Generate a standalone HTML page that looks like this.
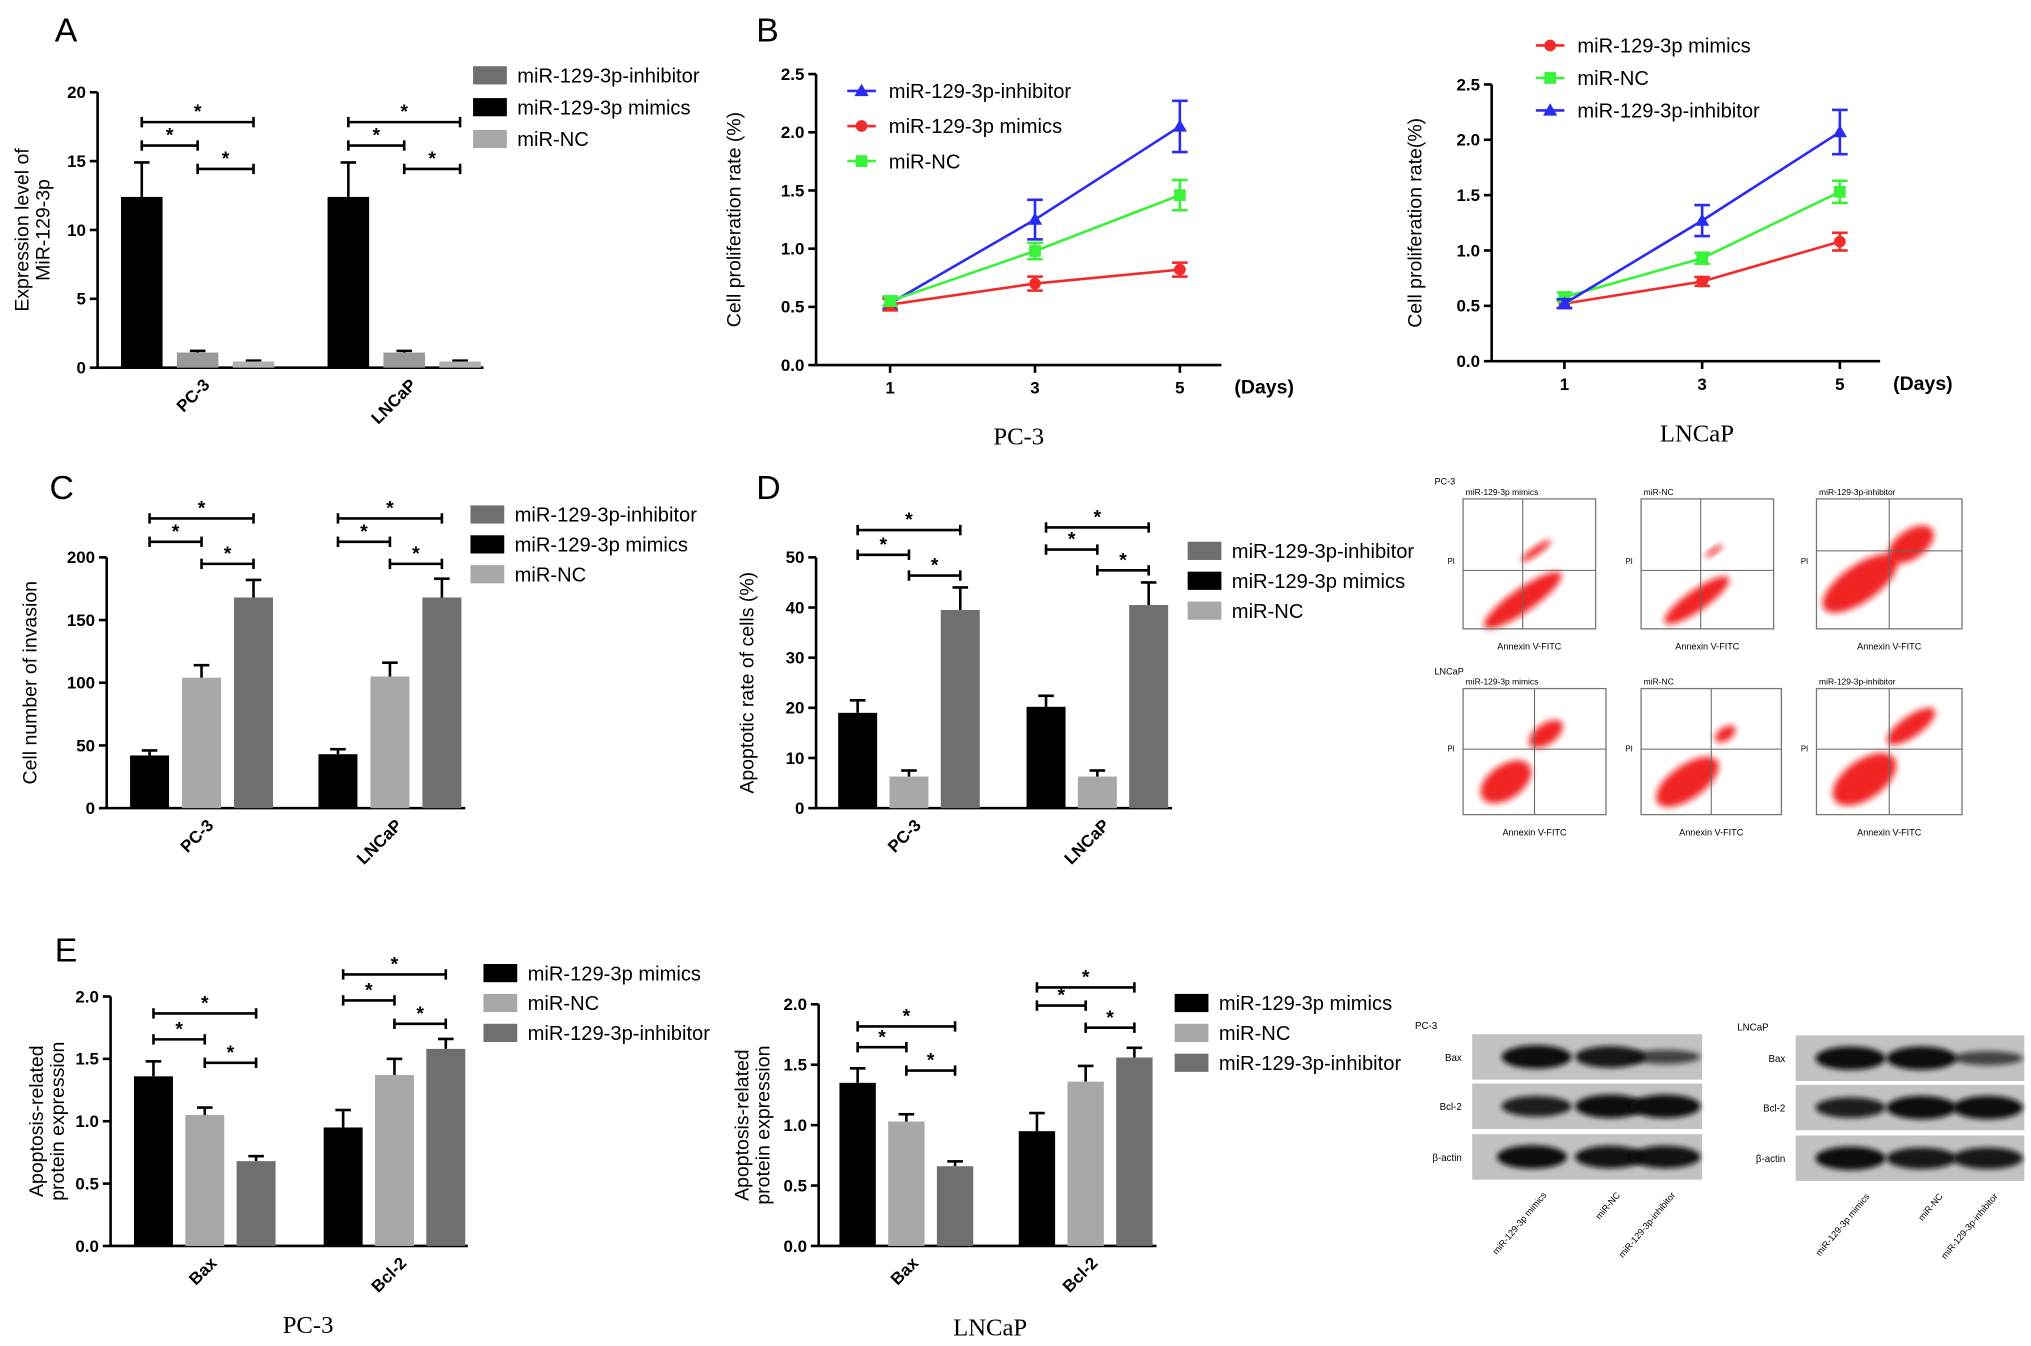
<!DOCTYPE html>
<html><head><meta charset="utf-8"><title>miR-129-3p figure</title>
<style>
html,body{margin:0;padding:0;background:#fff;}
svg{display:block;font-family:"Liberation Sans",Arial,sans-serif;}
</style></head>
<body>
<svg id="fig" width="2031" height="1346" viewBox="0 0 1563 1036" xmlns="http://www.w3.org/2000/svg">
<defs>
<filter id="blur" x="-50%" y="-50%" width="200%" height="200%"><feGaussianBlur stdDeviation="2.5"/></filter>
<filter id="blur2" x="-50%" y="-50%" width="200%" height="200%"><feGaussianBlur stdDeviation="2"/></filter>
</defs>
<g font-size="26" fill="#000">
<text x="42" y="32">A</text>
<text x="582" y="32">B</text>
<text x="38" y="384">C</text>
<text x="582" y="384">D</text>
<text x="42" y="740">E</text>
</g>
<g font-family="Liberation Serif,serif" font-size="19">
<text x="784" y="342" text-anchor="middle">PC-3</text>
<text x="1306" y="340" text-anchor="middle">LNCaP</text>
<text x="237" y="1026" text-anchor="middle">PC-3</text>
<text x="762" y="1028" text-anchor="middle">LNCaP</text>
</g>
<g id="layer"></g>
</svg>
<script>
// ---------- data ----------
const barGroupsCells = ["PC-3", "LNCaP"];
const barGroupsProt = ["Bax", "Bcl-2"];
const aTicks = [0, 5, 10, 15, 20];
const aMimics = [12.4, 12.4];
const aMimicsErr = [2.5, 2.5];
const aNC = [1.1, 1.1];
const aNCErr = [0.12, 0.12];
const aInhib = [0.45, 0.45];
const aInhibErr = [0.06, 0.06];

const dayCats = [1, 3, 5];
const bTicks = [0.0, 0.5, 1.0, 1.5, 2.0, 2.5];
const bPcInhib = [0.53, 1.25, 2.05];
const bPcInhibErr = [0.05, 0.17, 0.22];
const bPcMimics = [0.52, 0.70, 0.82];
const bPcMimicsErr = [0.05, 0.06, 0.06];
const bPcNC = [0.55, 0.98, 1.46];
const bPcNCErr = [0.04, 0.07, 0.13];
const bLnMimics = [0.52, 0.72, 1.08];
const bLnMimicsErr = [0.04, 0.04, 0.08];
const bLnNC = [0.58, 0.93, 1.53];
const bLnNCErr = [0.04, 0.05, 0.1];
const bLnInhib = [0.52, 1.27, 2.07];
const bLnInhibErr = [0.04, 0.14, 0.2];

const cTicks = [0, 50, 100, 150, 200];
const cMimics = [42, 43];
const cMimicsErr = [4, 4];
const cNC = [104, 105];
const cNCErr = [10, 11];
const cInhib = [168, 168];
const cInhibErr = [14, 15];

const dTicks = [0, 10, 20, 30, 40, 50];
const dMimics = [19, 20.2];
const dMimicsErr = [2.5, 2.2];
const dNC = [6.3, 6.3];
const dNCErr = [1.2, 1.2];
const dInhib = [39.5, 40.5];
const dInhibErr = [4.5, 4.5];

const eTicks = [0.0, 0.5, 1.0, 1.5, 2.0];
const ePcMimics = [1.36, 0.95];
const ePcMimicsErr = [0.12, 0.14];
const ePcNC = [1.05, 1.37];
const ePcNCErr = [0.06, 0.13];
const ePcInhib = [0.68, 1.58];
const ePcInhibErr = [0.04, 0.08];
const eLnMimics = [1.35, 0.95];
const eLnMimicsErr = [0.12, 0.15];
const eLnNC = [1.03, 1.36];
const eLnNCErr = [0.06, 0.13];
const eLnInhib = [0.66, 1.56];
const eLnInhibErr = [0.04, 0.08];

// ---------- helpers ----------
const NS = "http://www.w3.org/2000/svg";
const layer = document.getElementById("layer");
function el(tag, attrs, parent) {
  const e = document.createElementNS(NS, tag);
  for (const k in attrs) e.setAttribute(k, attrs[k]);
  (parent || layer).appendChild(e);
  return e;
}
function txt(str, attrs, parent) { const t = el("text", attrs, parent); t.textContent = str; return t; }
function fmt(v, d) { return d ? v.toFixed(d) : String(v); }

function axisY(p, g) {
  const sy = v => p.y0 - (v / p.max) * (p.y0 - p.yT);
  const ax = el("line", {x1: p.ax, y1: p.y0, x2: p.ax, y2: sy(p.ticks[p.ticks.length - 1]), stroke: "#000", "stroke-width": 2}, g);
  
  
  p.ticks.forEach(t => {
    el("line", {x1: p.ax - 6, y1: sy(t), x2: p.ax, y2: sy(t), stroke: "#000", "stroke-width": 2}, g);
    const lb = txt(fmt(t, p.dec), {x: p.ax - 9, y: sy(t) + 4.5, "text-anchor": "end", "font-size": 13, "font-weight": "bold"}, g);
    
    
  });
  const xa = el("line", {x1: p.ax, y1: p.y0, x2: p.xEnd, y2: p.y0, stroke: "#000", "stroke-width": 2}, g);
  
  
  p.ylabel.forEach((s, i) => {
    const yl = txt(s, {x: 0, y: 0, "text-anchor": "middle", "font-size": 15,
      transform: `translate(${p.ylx + i * 16},${(p.y0 + p.yT) / 2}) rotate(-90)`}, g);
    
    
  });
  return sy;
}

function barChart(p) {
  const g = el("g", {});
  
  
  const sy = axisY(p, g);
  const centers = [];
  p.series.forEach((vals, si) => {
    vals.forEach((v, gi) => {
      const x = p.groupX[gi] + si * (p.bw + p.gap);
      centers[gi] = centers[gi] || [];
      centers[gi][si] = x + p.bw / 2;
      const top = sy(v + p.errs[si][gi]);
      el("line", {x1: x + p.bw / 2, y1: sy(v), x2: x + p.bw / 2, y2: top, stroke: "#000", "stroke-width": 2}, g);
      el("line", {x1: x + p.bw / 2 - 6, y1: top, x2: x + p.bw / 2 + 6, y2: top, stroke: "#000", "stroke-width": 2}, g);
      const r = el("rect", {x: x, y: sy(v), width: p.bw, height: p.y0 - sy(v), fill: p.colors[si]}, g);
      
      
    });
  });
  p.groups.forEach((lab, gi) => {
    const cx = (centers[gi][0] + centers[gi][centers[gi].length - 1]) / 2;
    const t = txt(lab, {x: 0, y: 0, "text-anchor": "end", "font-size": 13, "font-weight": "bold",
      transform: `translate(${cx + 10},${p.y0 + 14}) rotate(-45)`}, g);
    
    
    p.brackets[gi].forEach(b => {
      const x1 = centers[gi][b[0]], x2 = centers[gi][b[1]];
      el("line", {x1: x1, y1: b[2], x2: x2, y2: b[2], stroke: "#000", "stroke-width": 2}, g);
      el("line", {x1: x1, y1: b[2] - 4, x2: x1, y2: b[2] + 4, stroke: "#000", "stroke-width": 2}, g);
      el("line", {x1: x2, y1: b[2] - 4, x2: x2, y2: b[2] + 4, stroke: "#000", "stroke-width": 2}, g);
      const s = txt("*", {x: (x1 + x2) / 2, y: b[2] - 3, "text-anchor": "middle", "font-size": 15, "font-weight": "bold"}, g);
      
      
    });
  });
  legend(p.legend, g);
}

function legend(L, g) {
  L.items.forEach((it, i) => {
    const y = L.y + i * L.dy;
    if (it.marker) {
      el("line", {x1: L.x, y1: y, x2: L.x + 22, y2: y, stroke: it.color, "stroke-width": 2}, g);
      marker(it.marker, L.x + 11, y, it.color, g);
    } else {
      el("rect", {x: L.x, y: y - 7, width: 26, height: 14, fill: it.color}, g);
    }
    const t = txt(it.label, {x: L.x + (it.marker ? 32 : 34), y: y + 5.5, "font-size": 15.5}, g);
    
    
  });
}

function marker(type, x, y, c, g) {
  if (type === "circle") el("circle", {cx: x, cy: y, r: 4.5, fill: c}, g);
  else if (type === "square") el("rect", {x: x - 4.5, y: y - 4.5, width: 9, height: 9, fill: c}, g);
  else el("polygon", {points: `${x},${y - 5.5} ${x + 5.5},${y + 4} ${x - 5.5},${y + 4}`, fill: c}, g);
}

function lineChart(p) {
  const g = el("g", {});
  
  
  const sy = axisY(p, g);
  const sx = d => p.x1 + (d - p.cats[0]) / (p.cats[p.cats.length - 1] - p.cats[0]) * (p.x5 - p.x1);
  p.cats.forEach(d => {
    el("line", {x1: sx(d), y1: p.y0, x2: sx(d), y2: p.y0 + 6, stroke: "#000", "stroke-width": 2}, g);
    const t = txt(String(d), {x: sx(d), y: p.y0 + 22, "text-anchor": "middle", "font-size": 13, "font-weight": "bold"}, g);
    
    
  });
  const dl = txt("(Days)", {x: p.xEnd + 10, y: p.y0 + 22, "font-size": 15, "font-weight": "bold"}, g);
  
  
  p.series.forEach((s, si) => {
    const pts = s.v.map((v, i) => `${sx(p.cats[i])},${sy(v)}`).join(" ");
    const pl = el("polyline", {points: pts, fill: "none", stroke: s.color, "stroke-width": 2}, g);
    
    
    s.v.forEach((v, i) => {
      const x = sx(p.cats[i]);
      el("line", {x1: x, y1: sy(v - s.e[i]), x2: x, y2: sy(v + s.e[i]), stroke: s.color, "stroke-width": 2}, g);
      el("line", {x1: x - 6, y1: sy(v + s.e[i]), x2: x + 6, y2: sy(v + s.e[i]), stroke: s.color, "stroke-width": 2}, g);
      el("line", {x1: x - 6, y1: sy(v - s.e[i]), x2: x + 6, y2: sy(v - s.e[i]), stroke: s.color, "stroke-width": 2}, g);
      marker(s.marker, x, sy(v), s.color, g);
    });
  });
  legend(p.legend, g);
}

const BLUE = "#2a2af2", RED = "#f22a2a", GREEN = "#3af23a";
const BLK = "#000", LG = "#a8a8a8", DG = "#6f6f6f";

barChart({name: "panel-a-expression", ax: 75, y0: 283, yT: 71, max: 20, ticks: aTicks, dec: 0, xEnd: 372,
  ylabel: ["Expression level of", "MiR-129-3p"], ylx: 22,
  groups: barGroupsCells, groupX: [93, 252], bw: 32, gap: 11,
  series: [aMimics, aNC, aInhib], errs: [aMimicsErr, aNCErr, aInhibErr],
  snames: ["mimics", "nc", "inhibitor"], colors: [BLK, "#999", "#b0b0b0"],
  brackets: [[[0, 2, 94], [0, 1, 112], [1, 2, 130]], [[0, 2, 94], [0, 1, 112], [1, 2, 130]]],
  legend: {x: 364, y: 58, dy: 24.5, items: [{label: "miR-129-3p-inhibitor", color: DG}, {label: "miR-129-3p mimics", color: BLK}, {label: "miR-NC", color: LG}]}});

lineChart({name: "panel-b-pc3-proliferation", ax: 628, y0: 281, yT: 57, max: 2.5, ticks: bTicks, dec: 1, xEnd: 940,
  ylabel: ["Cell proliferation rate (%)"], ylx: 570, cats: dayCats, x1: 685, x5: 908,
  series: [{id: "inhibitor", v: bPcInhib, e: bPcInhibErr, color: BLUE, marker: "tri"},
           {id: "mimics", v: bPcMimics, e: bPcMimicsErr, color: RED, marker: "circle"},
           {id: "nc", v: bPcNC, e: bPcNCErr, color: GREEN, marker: "square"}],
  legend: {x: 652, y: 70, dy: 27, items: [{label: "miR-129-3p-inhibitor", color: BLUE, marker: "tri"}, {label: "miR-129-3p mimics", color: RED, marker: "circle"}, {label: "miR-NC", color: GREEN, marker: "square"}]}});

lineChart({name: "panel-b-lncap-proliferation", ax: 1148, y0: 278, yT: 65, max: 2.5, ticks: bTicks, dec: 1, xEnd: 1447,
  ylabel: ["Cell proliferation rate(%)"], ylx: 1094, cats: dayCats, x1: 1204, x5: 1416,
  series: [{id: "mimics", v: bLnMimics, e: bLnMimicsErr, color: RED, marker: "circle"},
           {id: "nc", v: bLnNC, e: bLnNCErr, color: GREEN, marker: "square"},
           {id: "inhibitor", v: bLnInhib, e: bLnInhibErr, color: BLUE, marker: "tri"}],
  legend: {x: 1182, y: 35, dy: 25, items: [{label: "miR-129-3p mimics", color: RED, marker: "circle"}, {label: "miR-NC", color: GREEN, marker: "square"}, {label: "miR-129-3p-inhibitor", color: BLUE, marker: "tri"}]}});

barChart({name: "panel-c-invasion", ax: 82, y0: 622, yT: 429, max: 200, ticks: cTicks, dec: 0, xEnd: 358,
  ylabel: ["Cell number of invasion"], ylx: 28,
  groups: barGroupsCells, groupX: [100, 245], bw: 30, gap: 10,
  series: [cMimics, cNC, cInhib], errs: [cMimicsErr, cNCErr, cInhibErr],
  snames: ["mimics", "nc", "inhibitor"], colors: [BLK, LG, DG],
  brackets: [[[0, 2, 399], [0, 1, 417], [1, 2, 434]], [[0, 2, 399], [0, 1, 417], [1, 2, 434]]],
  legend: {x: 362, y: 396, dy: 23, items: [{label: "miR-129-3p-inhibitor", color: DG}, {label: "miR-129-3p mimics", color: BLK}, {label: "miR-NC", color: LG}]}});

barChart({name: "panel-d-apoptosis", ax: 628, y0: 622, yT: 429, max: 50, ticks: dTicks, dec: 0, xEnd: 902,
  ylabel: ["Apoptotic rate of cells (%)"], ylx: 580,
  groups: barGroupsCells, groupX: [645, 790], bw: 30, gap: 9.5,
  series: [dMimics, dNC, dInhib], errs: [dMimicsErr, dNCErr, dInhibErr],
  snames: ["mimics", "nc", "inhibitor"], colors: [BLK, LG, DG],
  brackets: [[[0, 2, 408], [0, 1, 427], [1, 2, 443]], [[0, 2, 406], [0, 1, 423], [1, 2, 439]]],
  legend: {x: 914, y: 424, dy: 23, items: [{label: "miR-129-3p-inhibitor", color: DG}, {label: "miR-129-3p mimics", color: BLK}, {label: "miR-NC", color: LG}]}});

barChart({name: "panel-e-pc3-protein", ax: 85, y0: 959, yT: 767, max: 2.0, ticks: eTicks, dec: 1, xEnd: 360,
  ylabel: ["Apoptosis-related", "protein expression"], ylx: 33,
  groups: barGroupsProt, groupX: [103, 249], bw: 30, gap: 9.5,
  series: [ePcMimics, ePcNC, ePcInhib], errs: [ePcMimicsErr, ePcNCErr, ePcInhibErr],
  snames: ["mimics", "nc", "inhibitor"], colors: [BLK, LG, DG],
  brackets: [[[0, 2, 780], [0, 1, 800], [1, 2, 818]], [[0, 2, 750], [0, 1, 770], [1, 2, 788]]],
  legend: {x: 372, y: 749, dy: 23, items: [{label: "miR-129-3p mimics", color: BLK}, {label: "miR-NC", color: LG}, {label: "miR-129-3p-inhibitor", color: DG}]}});

barChart({name: "panel-e-lncap-protein", ax: 630, y0: 959, yT: 773, max: 2.0, ticks: eTicks, dec: 1, xEnd: 890,
  ylabel: ["Apoptosis-related", "protein expression"], ylx: 576,
  groups: barGroupsProt, groupX: [646, 784], bw: 28, gap: 9.5,
  series: [eLnMimics, eLnNC, eLnInhib], errs: [eLnMimicsErr, eLnNCErr, eLnInhibErr],
  snames: ["mimics", "nc", "inhibitor"], colors: [BLK, LG, DG],
  brackets: [[[0, 2, 790], [0, 1, 806], [1, 2, 824]], [[0, 2, 760], [0, 1, 774], [1, 2, 791]]],
  legend: {x: 904, y: 772, dy: 23, items: [{label: "miR-129-3p mimics", color: BLK}, {label: "miR-NC", color: LG}, {label: "miR-129-3p-inhibitor", color: DG}]}});

// ---------- flow cytometry panels ----------
const flowTitles = ["miR-129-3p mimics", "miR-NC", "miR-129-3p-inhibitor"];
const flowRows = [
  {label: "PC-3", ly: 373, top: 384, h: 100, boxes: [[1126, 102], [1263, 102], [1398, 112]], qx: [0.45, 0.45, 0.5], qy: [0.55, 0.55, 0.4],
   blobs: [[[0.45, 0.78, 36, 9], [0.55, 0.4, 14, 3]], [[0.42, 0.78, 30, 8], [0.55, 0.4, 8, 2]], [[0.3, 0.65, 34, 14], [0.65, 0.35, 20, 11]]]},
  {label: "LNCaP", ly: 519, top: 530, h: 97, boxes: [[1126, 110], [1263, 108], [1398, 112]], qx: [0.5, 0.5, 0.5], qy: [0.48, 0.48, 0.48],
   blobs: [[[0.3, 0.74, 22, 13], [0.58, 0.36, 15, 8]], [[0.33, 0.74, 28, 13], [0.6, 0.36, 9, 5]], [[0.33, 0.72, 28, 15], [0.65, 0.3, 22, 8]]]}
];
flowRows.forEach((row, ri) => {
  const g = el("g", {});
  
  
  txt(row.label, {x: 1104, y: row.ly, "font-size": 7}, g);
  row.boxes.forEach((b, bi) => {
    const x = b[0], w = b[1], y = row.top, h = row.h;
    txt(flowTitles[bi], {x: x + 2, y: y - 3, "font-size": 6.5}, g);
    row.blobs[bi].forEach(bl => {
      el("ellipse", {cx: x + bl[0] * w, cy: y + bl[1] * h, rx: bl[2], ry: bl[3], fill: "#f01010", opacity: 0.9,
        transform: `rotate(-35 ${x + bl[0] * w} ${y + bl[1] * h})`, filter: "url(#blur)"}, g);
    });
    el("rect", {x: x, y: y, width: w, height: h, fill: "none", stroke: "#777", "stroke-width": 1}, g);
    el("line", {x1: x + row.qx[bi] * w, y1: y, x2: x + row.qx[bi] * w, y2: y + h, stroke: "#666", "stroke-width": 0.8}, g);
    el("line", {x1: x, y1: y + row.qy[bi] * h, x2: x + w, y2: y + row.qy[bi] * h, stroke: "#666", "stroke-width": 0.8}, g);
    txt("Annexin V-FITC", {x: x + w / 2, y: y + h + 16, "text-anchor": "middle", "font-size": 7}, g);
    txt("PI", {x: x - 12, y: y + h / 2, "font-size": 6}, g);
  });
});

// ---------- western blots ----------
const blotRows = ["Bax", "Bcl-2", "β-actin"];
const blotLanes = ["miR-129-3p mimics", "miR-NC", "miR-129-3p-inhibitor"];
const blots = [
  {label: "PC-3", lx: 1089, ly: 792, x: 1133, w: 177, tops: [796, 834, 873], h: 35,
   bands: [[[0.28, 1], [0.6, 0.9], [0.84, 0.5]], [[0.28, 0.85], [0.6, 1], [0.84, 1]], [[0.26, 1], [0.6, 0.95], [0.84, 0.95]]]},
  {label: "LNCaP", lx: 1337, ly: 793, x: 1382, w: 176, tops: [797, 835, 874], h: 35,
   bands: [[[0.24, 1], [0.55, 1], [0.84, 0.5]], [[0.24, 0.85], [0.55, 1], [0.84, 1]], [[0.24, 1], [0.55, 0.9], [0.84, 0.9]]]}
];
blots.forEach(b => {
  const g = el("g", {});
  
  
  txt(b.label, {x: b.lx, y: b.ly, "font-size": 7.5}, g);
  blotRows.forEach((r, ri) => {
    const y = b.tops[ri];
    el("rect", {x: b.x, y: y, width: b.w, height: b.h, fill: "#c2c2c2"}, g);
    b.bands[ri].forEach(bd => {
      el("ellipse", {cx: b.x + bd[0] * b.w, cy: y + b.h / 2, rx: 27, ry: 7 * bd[1] + 2, fill: "#111", opacity: 0.4 + 0.6 * bd[1], filter: "url(#blur2)"}, g);
    });
    txt(r, {x: b.x - 8, y: y + b.h / 2 + 3, "text-anchor": "end", "font-size": 7.5}, g);
  });
  blotLanes.forEach((ln, li) => {
    const cx = b.x + [0.28, 0.6, 0.84][li] * b.w;
    txt(ln, {x: 0, y: 0, "text-anchor": "end", "font-size": 7,
      transform: `translate(${cx + 8},${b.tops[2] + b.h + 12}) rotate(-50)`}, g);
  });
});
</script>
</body></html>
